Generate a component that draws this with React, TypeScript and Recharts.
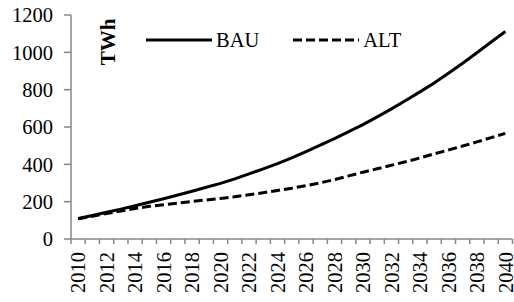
import React from 'react'
import { LineChart, Line, XAxis, YAxis, Legend, Customized } from 'recharts'

const YEARS = [
  2010, 2011, 2012, 2013, 2014, 2015, 2016, 2017, 2018, 2019, 2020,
  2021, 2022, 2023, 2024, 2025, 2026, 2027, 2028, 2029, 2030,
  2031, 2032, 2033, 2034, 2035, 2036, 2037, 2038, 2039, 2040,
]
const BAU = [
  110, 126, 143, 160, 178, 197, 216, 236, 256, 277, 298,
  322, 349, 376, 404, 434, 468, 503, 538, 575, 613,
  654, 697, 742, 788, 836, 888, 942, 998, 1055, 1112,
]
const ALT = [
  108, 122, 137, 150, 163, 175, 184, 192, 201, 209, 217,
  226, 237, 248, 260, 272, 286, 301, 318, 338, 358,
  376, 395, 414, 434, 456, 477, 498, 520, 543, 566,
]
const SERIES = ['BAU', 'ALT']
const X_LABELS = [
  2010, 2012, 2014, 2016, 2018, 2020, 2022, 2024,
  2026, 2028, 2030, 2032, 2034, 2036, 2038, 2040,
]
const Y_TICKS = [0, 200, 400, 600, 800, 1000, 1200]
const UNIT = 'TWh'

const FONT = "'Liberation Serif', 'Times New Roman', serif"
const AXIS_COLOR = '#878787'
const FONT_SIZE = 20.5

const data = YEARS.map((year, i) => ({ year, BAU: BAU[i], ALT: ALT[i] }))

// tick marks sit between the years, labels on every second year
const boundaries = [...YEARS.map(y => y - 0.5), YEARS[YEARS.length - 1] + 0.5]
const xTicks = [...boundaries, ...X_LABELS].sort((a, b) => a - b)

const XTick = ({ x, y, payload }: any) => {
  const v = payload.value
  if (v % 1 !== 0) {
    return <line x1={x} x2={x} y1={y} y2={y + 5} stroke={AXIS_COLOR} strokeWidth={1.5} />
  }
  const ty = y + 13
  return (
    <text
      x={x}
      y={ty}
      transform={`rotate(-90, ${x}, ${ty})`}
      textAnchor="end"
      dy="0.35em"
      fill="#000"
      style={{ fontFamily: FONT }}
      fontSize={FONT_SIZE}
    >
      {v}
    </text>
  )
}

const LegendContent = ({ payload }: any) => {
  const items = [...(payload ?? [])].sort((a: any, b: any) => SERIES.indexOf(a.value) - SERIES.indexOf(b.value))
  return (
    <div style={{ display: 'flex', alignItems: 'center', fontFamily: FONT, fontSize: FONT_SIZE, color: '#000' }}>
      {items.map((p: any) => (
        <div key={p.value} style={{ display: 'flex', alignItems: 'center', marginRight: 34 }}>
          <svg width={66} height={24} style={{ marginRight: 4 }}>
            <line
              x1={0} x2={66} y1={12} y2={12}
              stroke="#000" strokeWidth={3}
              strokeDasharray={p.payload?.strokeDasharray}
            />
          </svg>
          <span style={{ lineHeight: '24px', whiteSpace: 'nowrap' }}>{p.value}</span>
        </div>
      ))}
    </div>
  )
}

const UnitLabel = () => (
  <text
    x={108}
    y={42}
    transform="rotate(-90, 108, 42)"
    textAnchor="middle"
    dominantBaseline="central"
    style={{ fontFamily: FONT }}
    fontSize={21}
    fontWeight="bold"
    fill="#000"
  >
    {UNIT}
  </text>
)

export default function App() {
  return (
    <div style={{ position: 'absolute', left: 0, top: 0, background: '#fff' }}>
      <LineChart width={514} height={302} data={data} margin={{ top: 15, right: 1.5, left: 0, bottom: 0 }}>
        <XAxis
          dataKey="year"
          type="number"
          domain={[boundaries[0], boundaries[boundaries.length - 1]]}
          ticks={xTicks}
          interval={0}
          tick={<XTick />}
          tickSize={0}
          tickMargin={0}
          tickLine={false}
          axisLine={{ stroke: AXIS_COLOR, strokeWidth: 1.5 }}
          height={63}
        />
        <YAxis
          domain={[0, 1200]}
          ticks={Y_TICKS}
          interval={0}
          width={71}
          tickSize={7}
          tickMargin={11}
          tick={{ fill: '#000', fontSize: FONT_SIZE, style: { fontFamily: FONT } }}
          tickLine={{ stroke: AXIS_COLOR, strokeWidth: 1.5 }}
          axisLine={{ stroke: AXIS_COLOR, strokeWidth: 1.5 }}
        />
        <Legend
          layout="vertical"
          verticalAlign="middle"
          align="center"
          content={<LegendContent />}
          wrapperStyle={{ top: 28, left: 146, width: 'auto' }}
        />
        <Line
          dataKey="BAU"
          name="BAU"
          stroke="#000"
          strokeWidth={3}
          dot={false}
          type="linear"
          isAnimationActive={false}
        />
        <Line
          dataKey="ALT"
          name="ALT"
          stroke="#000"
          strokeWidth={3}
          strokeDasharray="9 4"
          dot={false}
          type="linear"
          isAnimationActive={false}
        />
        <Customized component={UnitLabel} />
      </LineChart>
    </div>
  )
}
